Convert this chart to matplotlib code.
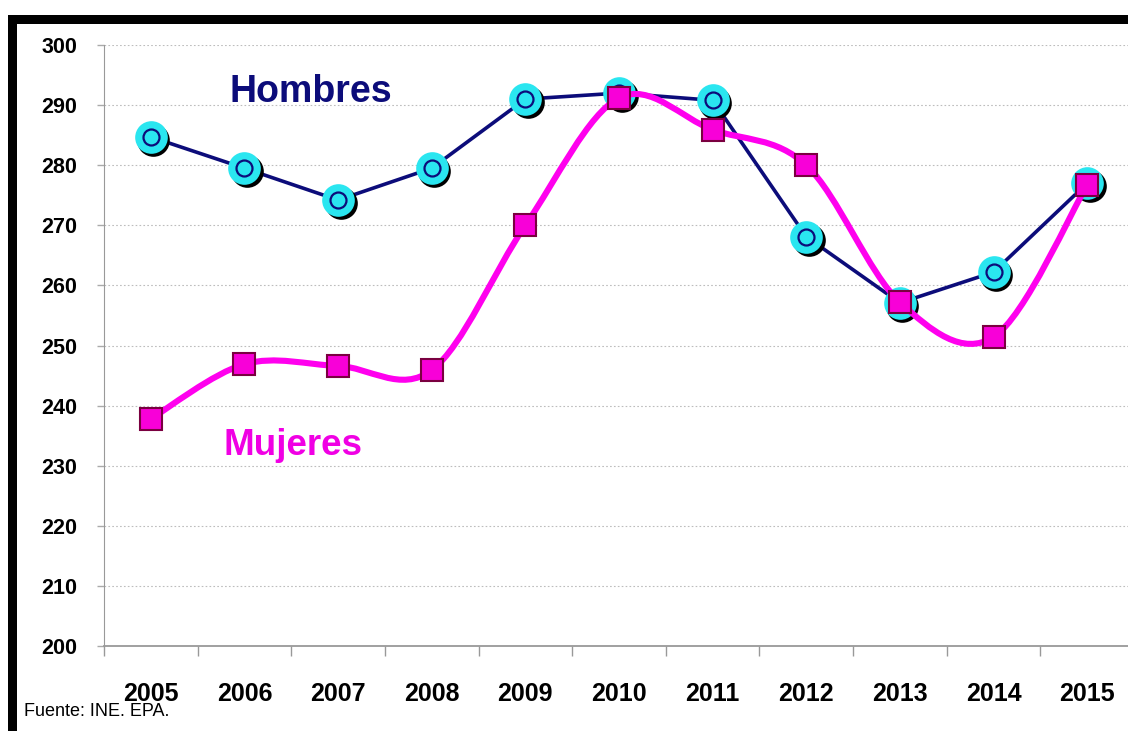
import matplotlib.pyplot as plt
from matplotlib.path import Path
from matplotlib.patches import PathPatch, Rectangle
from matplotlib.transforms import ScaledTranslation

plt.rcParams['font.family'] = ['Liberation Sans', 'DejaVu Sans']

years = ['2005', '2006', '2007', '2008', '2009', '2010',
         '2011', '2012', '2013', '2014', '2015']
hombres = [284.7, 279.5, 274.2, 279.5, 291.0, 292.0,
           290.8, 268.1, 257.1, 262.2, 277.0]
mujeres = [237.8, 246.9, 246.6, 245.9, 270.0, 291.2,
           285.9, 280.0, 257.2, 251.4, 276.7]
y_ticks = list(range(200, 301, 10))

W, H = 1128, 731
fig = plt.figure(figsize=(W / 100, H / 100), dpi=100)
fig.patch.set_facecolor('white')

# plot area (right edge runs a little past the image, as in the source)
ax = fig.add_axes([104 / W, 1 - 646 / H, 1030 / W, 601 / H])
xs = list(range(len(years)))


def smooth_path(x, y):
    # excel style smoothed line: cubic bezier segments through every point
    n = len(x)
    verts = [(x[0], y[0])]
    codes = [Path.MOVETO]
    for i in range(n - 1):
        p = i - 1 if i > 0 else i
        q = i + 2 if i + 2 < n else i + 1
        c1 = (x[i] + (x[i + 1] - x[p]) / 6, y[i] + (y[i + 1] - y[p]) / 6)
        c2 = (x[i + 1] - (x[q] - x[i]) / 6, y[i + 1] - (y[q] - y[i]) / 6)
        verts += [c1, c2, (x[i + 1], y[i + 1])]
        codes += [Path.CURVE4] * 3
    return Path(verts, codes)


shadow = ax.transData + ScaledTranslation(2.5 / 100, -3 / 100, fig.dpi_scale_trans)

# Hombres
ax.plot(xs, hombres, color='#0c0c7a', lw=2.6, zorder=3)
ax.plot(xs, hombres, 'o', ms=23.5, color='black', mec='none', transform=shadow, zorder=4)
ax.plot(xs, hombres, 'o', ms=23.5, color='#2ae6f0', mec='none', zorder=5)
ax.plot(xs, hombres, 'o', ms=11.5, mfc='none', mec='#0c0c7a', mew=1.6, zorder=6)

# Mujeres
ax.add_patch(PathPatch(smooth_path(xs, mujeres), fill=False, ec='#ff00ee',
                       lw=4.4, zorder=7, capstyle='round'))
ax.plot(xs, mujeres, 's', ms=15.5, mfc='#f800d8', mec='#7a0040', mew=1.5, zorder=9)

ax.set_xlim(-0.5, 10.5)
ax.set_ylim(200, 300)
ax.set_xticks(xs)
ax.set_xticklabels(years, fontsize=18, fontweight='bold')
ax.set_xticks([i - 0.5 for i in range(len(years) + 1)], minor=True)
ax.tick_params(axis='x', which='major', length=0, pad=26)
ax.tick_params(axis='x', which='minor', length=7, color='#999999', width=1)
ax.set_yticks(y_ticks)
ax.set_yticklabels([str(v) for v in y_ticks], fontsize=15.5, fontweight='bold')
ax.tick_params(axis='y', length=5, color='#aaaaaa', width=1, pad=14)
ax.grid(axis='y', color='#bdbdbd', ls=(0, (1.5, 2)), lw=0.8)
ax.set_axisbelow(True)
for s in ['top', 'right']:
    ax.spines[s].set_visible(False)
ax.spines['left'].set_color('#999999')
ax.spines['bottom'].set_color('#999999')
ax.spines['bottom'].set_linewidth(1.3)

# series labels
fig.text(311 / W, 1 - 102 / H, 'Hombres', fontsize=27, fontweight='bold',
         color='#0c0c7a', ha='center', va='baseline')
fig.text(293 / W, 1 - 455 / H, 'Mujeres', fontsize=26.5, fontweight='bold',
         color='#f000e4', ha='center', va='baseline')
fig.text(24 / W, 1 - 712 / H, 'Fuente: INE. EPA.', fontsize=13,
         ha='left', va='center')

# thick black frame on top and left
fig.add_artist(Rectangle((8 / W, 1 - 24 / H), 1 - 8 / W, 9 / H,
                         transform=fig.transFigure, color='black', lw=0))
fig.add_artist(Rectangle((8 / W, 0), 9 / W, 1 - 15 / H,
                         transform=fig.transFigure, color='black', lw=0))

fig.savefig('out.png', dpi=100)
